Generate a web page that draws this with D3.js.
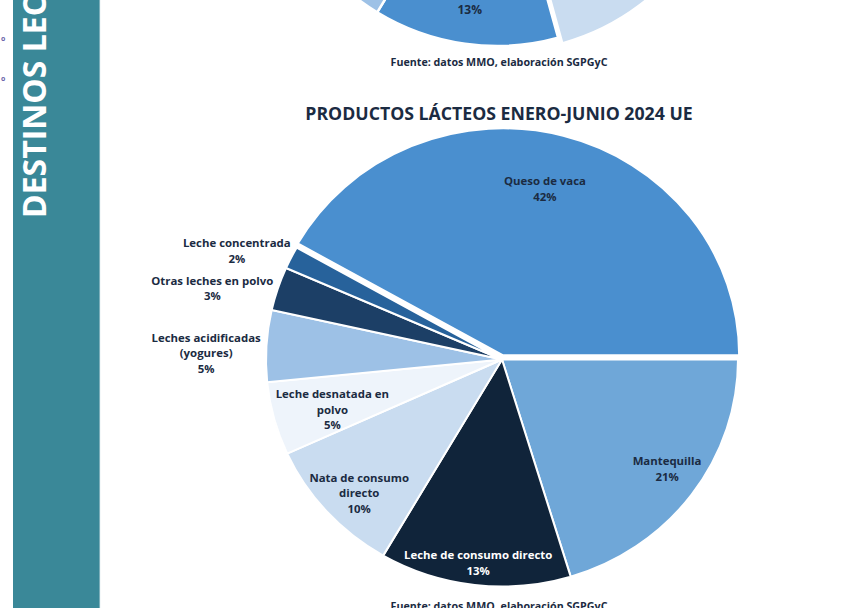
<!DOCTYPE html>
<html><head><meta charset="utf-8">
<script src="https://cdn.jsdelivr.net/npm/d3@7"></script>
<style>
body{margin:0;background:#fff}
svg{display:block}
text{font-family:"Open Sans","Noto Sans",sans-serif;font-weight:700}
</style>
</head><body>
<svg id="c" width="858" height="608"></svg>
<script>
// ---- Data ----
const categories = ["Mantequilla","Leche de consumo directo","Nata de consumo directo","Leche desnatada en polvo","Leches acidificadas (yogures)","Otras leches en polvo","Leche concentrada","Queso de vaca"];
const values = [20.3, 13.1, 9.8, 5.2, 5.1, 3.1, 1.6, 41.8];
const pctLabels = ["21%","13%","10%","5%","5%","3%","2%","42%"];
const labelLines = [["Mantequilla"],["Leche de consumo directo"],["Nata de consumo","directo"],["Leche desnatada en","polvo"],["Leches acidificadas","(yogures)"],["Otras leches en polvo"],["Leche concentrada"],["Queso de vaca"]];
const colors = ["#6fa7d8","#10243a","#c9dcf0","#eef4fb","#9dc1e6","#1c3f66","#27629b","#4a8fcf"];
const textColors = ["#1b2b42","#ffffff","#1b2b42","#1b2b42","#1b2b42","#1b2b42","#1b2b42","#1b2b42"];

// previous chart (only its lower edge is visible at the top of the page)
const topValues = [12, 13, 5, 70];
const topLabels = ["", "13%", "", ""];
const topColors = ["#c9dcf0","#4a8fcf","#9dc1e6","none"];

const title = "PRODUCTOS LÁCTEOS ENERO-JUNIO 2024 UE";
const source = "Fuente: datos MMO, elaboración SGPGyC";
const sideTitle = "DESTINOS LECHE";

// ---- Layout ----
const svg = d3.select("#c");
const deg = Math.PI/180;

// side bar
svg.append("rect").attr("x",13).attr("y",0).attr("width",87).attr("height",608).attr("fill","#3a8898");
svg.append("line").attr("x1",100).attr("x2",100).attr("y1",0).attr("y2",608).attr("stroke","#e3eef0").attr("stroke-width",0.8);
svg.append("text").attr("transform","translate(45.5,218) rotate(-90)")
  .attr("fill","#ffffff").attr("font-size",32).attr("font-weight",800).text(sideTitle);
[41,81].forEach(y=>svg.append("text").attr("x",1).attr("y",y).attr("font-size",7).attr("fill","#6a63a8").attr("font-weight",400).text("o"));

// top (previous) pie
const tcx = 497, tcy = -184, tr = 230;
const tStart = 188 - 13*3.6/2 - 12*3.6;
const topPie = d3.pie().sort(null).startAngle(tStart*deg).endAngle(tStart*deg+2*Math.PI)(topValues);
const topArc = d3.arc().innerRadius(0).outerRadius(tr);
const topExplode = [7,0,0,0];
const tg = svg.append("g").attr("transform",`translate(${tcx},${tcy})`);
tg.selectAll("path").data(topPie).join("path")
  .attr("d",topArc)
  .attr("fill",(d,i)=>topColors[i])
  .attr("stroke",(d,i)=>topColors[i]==="none"?"none":"#fff").attr("stroke-width",2.5)
  .attr("transform",(d,i)=>{const a=(d.startAngle+d.endAngle)/2; return `translate(${topExplode[i]*Math.sin(a)},${-topExplode[i]*Math.cos(a)})`;});
tg.selectAll("text.tl").data(topPie).join("text").attr("class","tl")
  .attr("x",d=>{const a=(d.startAngle+d.endAngle)/2; return tr*0.852*Math.sin(a);})
  .attr("y",d=>{const a=(d.startAngle+d.endAngle)/2; return -tr*0.852*Math.cos(a)+4;})
  .attr("text-anchor","middle").attr("font-size",12).attr("fill","#1b2b42")
  .text((d,i)=>topLabels[i]);

svg.append("text").attr("x",499).attr("y",66).attr("text-anchor","middle").attr("font-size",10.7).attr("fill","#1b2b42").text(source);

// title
svg.append("text").attr("x",499).attr("y",120).attr("text-anchor","middle").attr("font-size",17.7).attr("fill","#1b2b42").text(title);

// main pie (slightly elliptical, as in the reference)
const cx = 502, cy = 359.5, r = 236, ky = 227/236;
const pieData = d3.pie().sort(null).startAngle(90*deg).endAngle(90*deg+2*Math.PI)(values);
const arc = d3.arc().innerRadius(0).outerRadius(r);
const explode = [0,0,0,0,0,0,0,4.5];
const g = svg.append("g").attr("transform",`translate(${cx},${cy}) scale(1,${ky})`);
g.selectAll("path").data(pieData).join("path")
  .attr("d",arc)
  .attr("fill",(d,i)=>colors[i])
  .attr("stroke","#fff").attr("stroke-width",2).attr("vector-effect","non-scaling-stroke")
  .attr("transform",(d,i)=>{const a=(d.startAngle+d.endAngle)/2; return `translate(${explode[i]*Math.sin(a)},${-explode[i]*Math.cos(a)})`;});

// label placement (layout settings)
const labelRadius = [0.839,0.869,0.829,0.75,1.254,1.264,1.214,0.725];
const labelShift = [-3,0,-1,-1.4,-2.2,-4.4,-4.4,-0.6];
const lineH = 15.6;
const lg = svg.append("g").attr("transform",`translate(${cx},${cy})`);
pieData.forEach((d,i)=>{
  const a = (d.startAngle+d.endAngle)/2 + labelShift[i]*deg;
  const rr = r*labelRadius[i] + explode[i];
  const x = rr*Math.sin(a), y = -rr*Math.cos(a);
  const lines = labelLines[i].concat([pctLabels[i]]);
  const y0 = y - (lines.length-1)*lineH/2;
  const t = lg.append("text").attr("text-anchor","middle").attr("font-size",11.4).attr("fill",textColors[i]);
  lines.forEach((ln,k)=>t.append("tspan").attr("x",x).attr("y",y0+k*lineH+4).text(ln));
});

svg.append("text").attr("x",499).attr("y",610).attr("text-anchor","middle").attr("font-size",10.7).attr("fill","#1b2b42").text(source);
</script>
</body></html>
